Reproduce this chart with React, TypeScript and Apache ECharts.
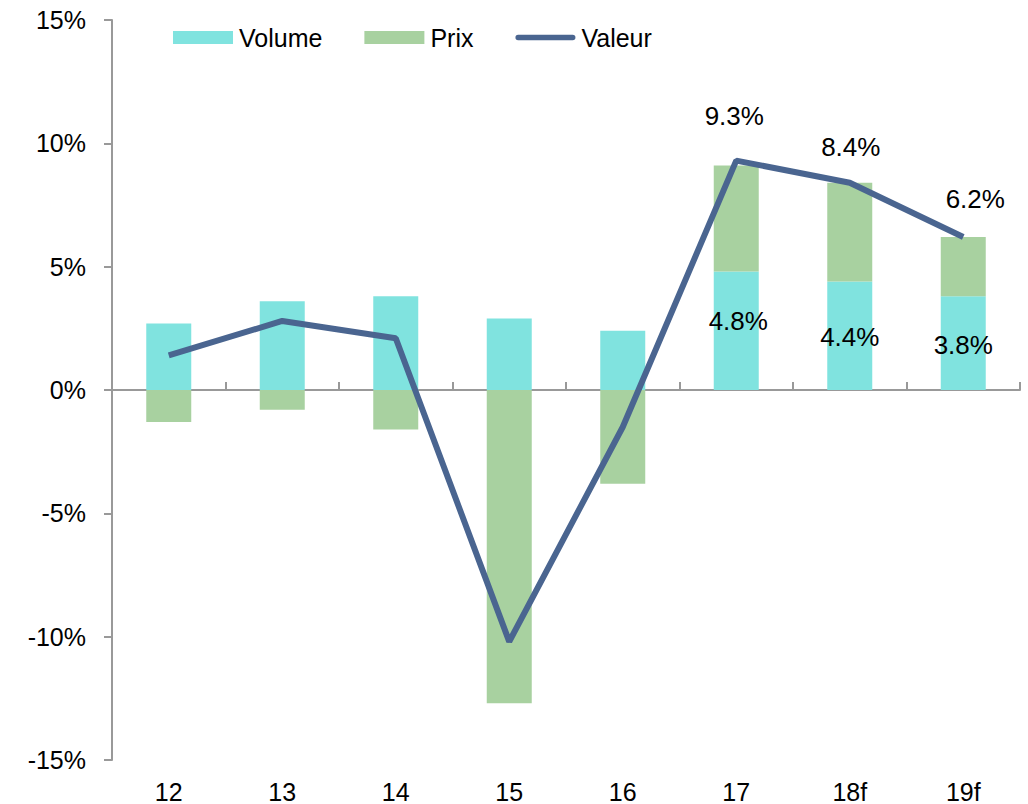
import React, { useEffect, useRef } from "react";
import * as echarts from "echarts";

const categories = ["12", "13", "14", "15", "16", "17", "18f", "19f"];
const volume = [2.7, 3.6, 3.8, 2.9, 2.4, 4.8, 4.4, 3.8];
const prix = [-1.3, -0.8, -1.6, -12.7, -3.8, 4.3, 4.0, 2.4];
const valeur = [1.4, 2.8, 2.1, -10.2, -1.5, 9.3, 8.4, 6.2];
const labelledFrom = 5;

const FONT = "Liberation Sans, Arial, sans-serif";
const LINE_COLOR = "#4A6590";

export default function App() {
  const ref = useRef<HTMLDivElement>(null);
  useEffect(() => {
    const chart = echarts.init(ref.current!, null, { renderer: "svg" });
    const lineOffsets: Record<number, number[]> = { 5: [-2, -13], 6: [1, -4], 7: [12, -6] };
    const volOffsets: Record<number, number[]> = { 5: [2, -10], 6: [0, 1], 7: [0, 2] };
    chart.setOption({
      animation: false,
      textStyle: { fontFamily: FONT },
      grid: { left: 112, right: 8, top: 20, bottom: 44 },
      legend: {
        left: 168,
        top: 20,
        itemWidth: 60,
        itemHeight: 13,
        itemGap: 42,
        textStyle: { fontSize: 25, color: "#000", fontFamily: FONT, padding: [0, 0, 0, 1] },
        data: [
          { name: "Volume", icon: "rect" },
          { name: "Prix", icon: "rect" },
          {
            name: "Valeur",
            icon: "path://M3,0 L63,0 A3,3 0 0 1 63,6 L3,6 A3,3 0 0 1 3,0 Z",
          },
        ],
      },
      xAxis: [
        {
          type: "category",
          data: categories,
          position: "bottom",
          axisLine: { show: false, onZero: false },
          axisTick: { show: false },
          axisLabel: { fontSize: 25, color: "#000", margin: 19, fontFamily: FONT },
        },
        {
          type: "category",
          data: categories,
          axisLine: { show: true, onZero: true, lineStyle: { color: "#999", width: 2 } },
          axisTick: { show: true, length: 8, lineStyle: { color: "#999", width: 2 } },
          axisLabel: { show: false },
        },
      ],
      yAxis: {
        type: "value",
        min: -15,
        max: 15,
        interval: 5,
        axisLine: { show: true, lineStyle: { color: "#999", width: 2 } },
        axisTick: { show: true, length: 8, lineStyle: { color: "#999", width: 2 } },
        splitLine: { show: false },
        axisLabel: {
          fontSize: 25,
          color: "#000",
          margin: 26,
          fontFamily: FONT,
          formatter: (v: number) => `${v}%`,
        },
      },
      series: [
        {
          name: "Volume",
          type: "bar",
          stack: "s",
          barWidth: 45,
          itemStyle: { color: "#80E3DF" },
          data: volume.map((v, i) => ({
            value: v,
            label: {
              show: i >= labelledFrom,
              position: "inside",
              offset: volOffsets[i] || [0, 0],
              fontSize: 26,
              color: "#000",
              fontFamily: FONT,
              formatter: (p: any) => `${p.value.toFixed(1)}%`,
            },
          })),
        },
        {
          name: "Prix",
          type: "bar",
          stack: "s",
          barWidth: 45,
          itemStyle: { color: "#A8D1A0" },
          data: prix,
        },
        {
          name: "Valeur",
          type: "line",
          symbol: "none",
          lineStyle: { color: LINE_COLOR, width: 6 },
          itemStyle: { color: LINE_COLOR },
          z: 5,
          data: valeur,
        },
        {
          name: "ValeurLabels",
          type: "scatter",
          symbolSize: 0,
          silent: true,
          itemStyle: { color: "#000", opacity: 1 },
          z: 6,
          data: valeur.map((v, i) => ({
            value: v,
            label: {
              show: i >= labelledFrom,
              position: "top",
              distance: 19,
              offset: lineOffsets[i] || [0, 0],
              fontSize: 26,
              color: "#000",
              opacity: 1,
              fontFamily: FONT,
              formatter: (p: any) => `${p.value.toFixed(1)}%`,
            },
          })),
        },
      ],
    });
    return () => chart.dispose();
  }, []);
  return <div ref={ref} style={{ width: 1028, height: 804, position: "absolute", left: 0, top: 0 }} />;
}
